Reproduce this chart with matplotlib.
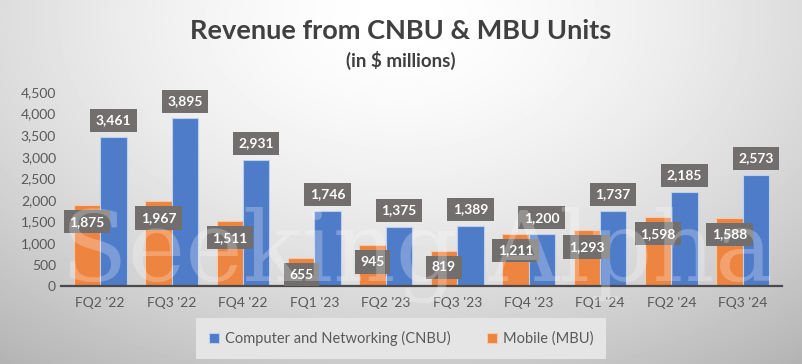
import numpy as np
import matplotlib
matplotlib.use("Agg")
import matplotlib.pyplot as plt

plt.rcParams['font.family'] = ['Lato', 'DejaVu Sans']

quarters = ["FQ2 '22", "FQ3 '22", "FQ4 '22", "FQ1 '23", "FQ2 '23",
            "FQ3 '23", "FQ4 '23", "FQ1 '24", "FQ2 '24", "FQ3 '24"]
cnbu = [3461, 3895, 2931, 1746, 1375, 1389, 1200, 1737, 2185, 2573]
mbu = [1875, 1967, 1511, 655, 945, 819, 1211, 1293, 1598, 1588]

blue = '#4f7cc9'
orange = '#ed843f'
txt = '#595959'

fig = plt.figure(figsize=(8.02, 3.64), dpi=100)

# background: light radial gradient
bg = fig.add_axes([0, 0, 1, 1], zorder=-10)
yy, xx = np.mgrid[0:1:364j, 0:1:802j]
r = np.sqrt(((xx - 0.5) / 0.75) ** 2 + ((yy - 0.05) / 1.1) ** 2)
shade = np.clip(1 - 0.26 * r ** 1.6, 0, 1)
bg.imshow(shade, cmap='gray', vmin=0, vmax=1, aspect='auto', extent=[0, 1, 0, 1], origin='upper')
bg.set_axis_off()

ax = fig.add_axes([0.076, 0.214, 0.899, 0.533])
ax.set_facecolor('none')
x = np.arange(len(quarters))
w = 0.37
b1 = ax.bar(x - w / 2, mbu, w, color=orange, edgecolor='#f6c9a8', linewidth=0.8, label='Mobile (MBU)', zorder=2)
b2 = ax.bar(x + w / 2, cnbu, w, color=blue, edgecolor='#bcd0ee', linewidth=0.8,
            label='Computer and Networking (CNBU)', zorder=2)

box = dict(boxstyle='square,pad=0.4', fc='#716e6d', ec='none')
for xi, v in zip(x, mbu):
    ax.annotate(f'{v:,}', (xi - w / 2, v), xytext=(0, -12), textcoords='offset points',
                ha='center', va='center', color='white', fontsize=10, fontweight='bold',
                bbox=box, zorder=5)
for xi, v in zip(x, cnbu):
    ax.annotate(f'{v:,}', (xi + w / 2, v), xytext=(0, 12), textcoords='offset points',
                ha='center', va='center', color='white', fontsize=10, fontweight='bold',
                bbox=box, zorder=5)

ax.set_xlim(-0.55, len(quarters) - 0.45)
ax.set_ylim(0, 4500)
ax.set_yticks(range(0, 4501, 500))
ax.set_yticklabels([f'{t:,}' for t in range(0, 4501, 500)])
ax.set_xticks(x)
ax.set_xticklabels(quarters)
ax.tick_params(length=0, colors=txt, labelsize=10)
ax.tick_params(axis='x', pad=8)
for s in ['top', 'right', 'left']:
    ax.spines[s].set_visible(False)
ax.spines['bottom'].set_color('#4a4a4a')
ax.spines['bottom'].set_linewidth(1.6)

handles = [b2, b1]
leg = fig.legend(handles, [h.get_label() for h in handles], loc='center', bbox_to_anchor=(0.5, 0.07),
                 ncol=2, frameon=True, fontsize=10.5, handlelength=0.7, handleheight=0.7,
                 columnspacing=2.5, handletextpad=0.4, borderpad=0.6)
leg.get_frame().set_facecolor('#e5e5e5')
leg.get_frame().set_edgecolor('none')
leg.get_frame().set_alpha(1)
leg.get_frame().set_boxstyle('square')
for t in leg.get_texts():
    t.set_color(txt)

fig.text(0.5, 0.915, 'Revenue from CNBU & MBU Units', ha='center', va='center',
         fontsize=19.5, fontweight='bold', color='#404040')
fig.text(0.5, 0.835, '(in $ millions)', ha='center', va='center',
         fontsize=13.5, fontweight='bold', color='#404040')

# watermark
fig.text(0.52, 0.3, 'Seeking Alpha', ha='center', va='center', family='DejaVu Serif',
         fontsize=70, color='white', alpha=0.25, zorder=20)

fig.savefig('out.png', dpi=100)
